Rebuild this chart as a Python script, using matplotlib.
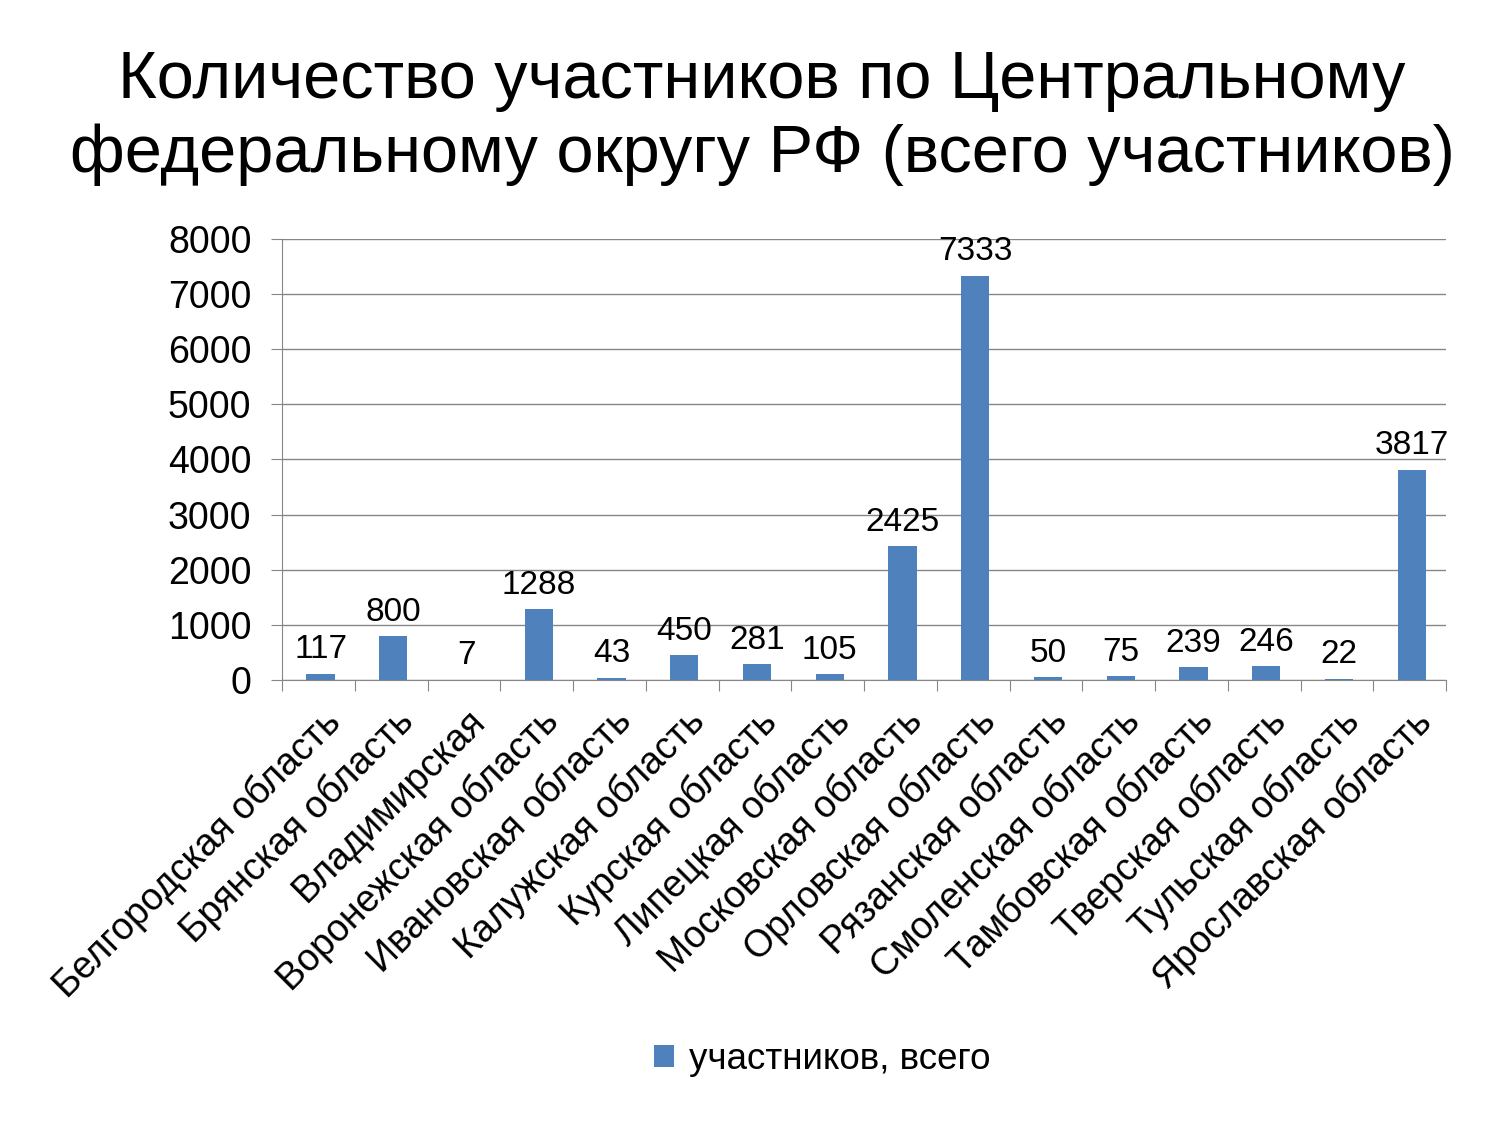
import numpy as np
import matplotlib.pyplot as plt

plt.rcParams['font.family'] = ['Liberation Sans', 'DejaVu Sans']

# data
regions = ["Белгородская область", "Брянская область", "Владимирская",
           "Воронежская область", "Ивановская область", "Калужская область",
           "Курская область", "Липецкая область", "Московская область",
           "Орловская область", "Рязанская область", "Смоленская область",
           "Тамбовская область", "Тверская область", "Тульская область",
           "Ярославская область"]
participants = [117, 800, 7, 1288, 43, 450, 281, 105, 2425, 7333, 50, 75,
                239, 246, 22, 3817]
title = "Количество участников по Центральному\nфедеральному округу РФ (всего участников)"
series_name = "участников, всего"

fig = plt.figure(figsize=(15, 11.25), dpi=100)
ax = fig.add_axes([0.188, 0.3956, 0.776, 0.392])

x = np.arange(len(regions))
bars = ax.bar(x + 0.03, participants, width=0.39, color='#4F81BD', label=series_name, zorder=3)

for xi, v in zip(x, participants):
    ax.text(xi + 0.03, v + 150, str(v), ha='center', va='bottom', fontsize=24)

ax.set_xlim(-0.5, len(regions) - 0.5)
ax.set_ylim(0, 8000)
ax.set_yticks(np.arange(0, 8001, 1000))
ax.tick_params(axis='y', labelsize=27, length=8, color='#868686', pad=14)
ax.yaxis.grid(True, color='#868686', linewidth=1, zorder=0)

# category ticks between bars
ax.set_xticks(np.arange(-0.5, len(regions), 1.0), minor=False)
ax.set_xticklabels([])
ax.tick_params(axis='x', length=8, color='#868686')
for xi, name in zip(x, regions):
    ax.text(xi + 0.05, -420, name, rotation=45, ha='right', va='top',
            rotation_mode='anchor', fontsize=27)

for s in ['top', 'right']:
    ax.spines[s].set_visible(False)
ax.spines['left'].set_color('#868686')
ax.spines['bottom'].set_color('#868686')

fig.text(0.508, 0.895, title, ha='center', va='center', fontsize=48, linespacing=1.24)

leg = fig.legend(handles=[bars], labels=[series_name], loc='center',
                 bbox_to_anchor=(0.548, 0.058), frameon=False, fontsize=26.5,
                 handlelength=0.55, handleheight=0.55, handletextpad=0.4)

fig.savefig('out.png', dpi=100)
